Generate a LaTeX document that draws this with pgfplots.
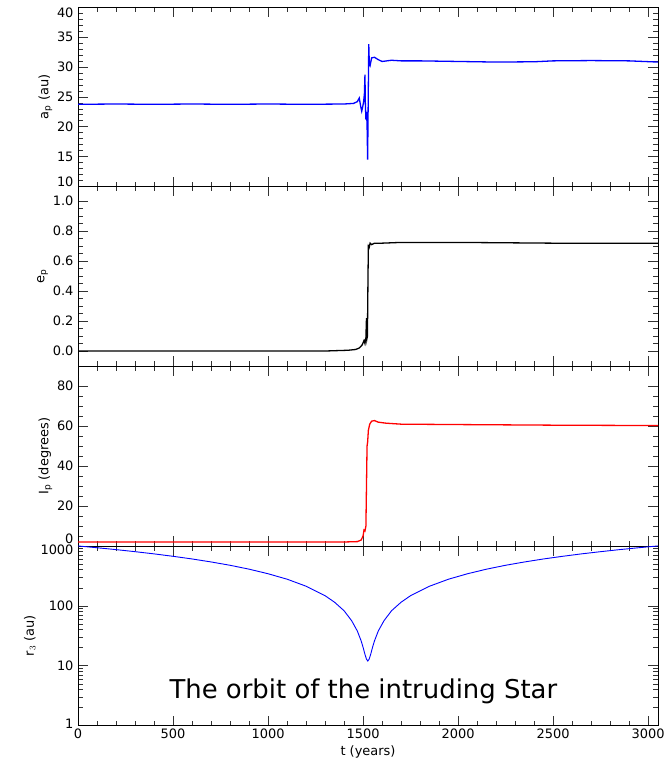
\documentclass[border=0pt]{standalone}
\usepackage{fontspec}
\setmainfont{DejaVu Sans}
\usepackage{pgfplots}
\pgfplotsset{compat=1.18}
\newcommand{\up}[2]{\raisebox{#1}[\height][\depth]{#2}}
\pgfplotsset{
  panel/.style={
    scale only axis, width=580bp, height=179.75bp,
    anchor=south west,
    xmin=0, xmax=3052,
    xtick={0,500,1000,1500,2000,2500,3000},
    minor x tick num=4,
    tick align=inside,
    major tick length=10bp, minor tick length=5bp,
    every tick/.style={black!80, line width=0.6bp},
    axis line style={black, line width=0.8bp},
    tick label style={font=\fontsize{13}{15}\selectfont},
    label style={font=\fontsize{13}{15}\selectfont},
    /pgf/number format/assume math mode=true,
    yticklabel style={xshift=-1bp},
    ylabel style={yshift=-2bp},
  }
}
\begin{document}
\begin{tikzpicture}
\useasboundingbox (0,0) rectangle (667bp,769bp);
% panel 1: a_p
\begin{axis}[panel, at={(78bp,582.3bp)},
  xticklabel=\empty,
  ymin=10, ymax=40, ytick={10,15,20,25,30,35,40},
  yticklabels={\up{5bp}{10},15,20,25,30,35,\up{-6bp}{40}},
  minor y tick num=4,
  ylabel={a$_{\mathrm{p}}$ (au)}]
\addplot[blue, line width=1.3bp] coordinates {
(0,23.75) (200,23.8) (400,23.75) (600,23.8) (800,23.75) (1000,23.8) (1200,23.75) (1400,23.8)
(1450,23.9) (1470,24.2) (1480,24.8) (1487,23.5) (1493,22.6) (1498,23.3) (1503,24.2) (1507,25.5)
(1510,28.7) (1512,24) (1515,21.2) (1518,22.5) (1521,20.5) (1524,14.5) (1527,24) (1530,33.8)
(1533,30.5) (1537,30.2) (1545,31.5) (1560,31.6) (1580,31.2) (1600,30.9) (1650,31.1) (1700,31.0)
(1800,31.0) (2000,30.9) (2200,30.8) (2400,30.85) (2500,31.0) (2700,31.05) (2900,31.0) (3052,30.8)};
\end{axis}
% panel 2: e_p
\begin{axis}[panel, at={(78bp,403bp)},
  xticklabel=\empty,
  ymin=-0.1, ymax=1.1, ytick={0,0.2,0.4,0.6,0.8,1.0},
  yticklabels={0.0,0.2,0.4,0.6,0.8,1.0},
  minor y tick num=3,
  ylabel={e$_{\mathrm{p}}$}]
\addplot[black, line width=1.3bp] coordinates {
(0,0.0) (1300,0.0) (1420,0.005) (1460,0.01) (1480,0.02) (1495,0.04) (1505,0.07) (1510,0.05)
(1515,0.09) (1518,0.22) (1520,0.08) (1523,0.1) (1526,0.5) (1528,0.7) (1532,0.69) (1537,0.72)
(1545,0.71) (1560,0.72) (1600,0.72) (1700,0.725) (2000,0.725) (2500,0.72) (3052,0.72)};
\end{axis}
% panel 3: I_p
\begin{axis}[panel, at={(78bp,223bp)},
  xticklabel=\empty,
  ymin=0, ymax=90, ytick={0,20,40,60,80},
  yticklabels={\up{7bp}{0},20,40,60,80},
  minor y tick num=3,
  ylabel={I$_{\mathrm{p}}$ (degrees)}]
\addplot[red, line width=1.3bp] coordinates {
(0,2) (1400,2) (1470,2.2) (1490,3) (1500,5) (1505,8) (1510,7.5) (1515,10) (1518,30) (1521,50)
(1524,52) (1528,58) (1535,61) (1545,62.5) (1560,62.8) (1580,62) (1620,61.5) (1700,61) (2000,60.8)
(2500,60.5) (3052,60.3)};
\end{axis}
% panel 4: r_3
\begin{axis}[panel, at={(78bp,43.3bp)},
  ymode=log, ymin=1, ymax=1000, ytick={1,10,100,1000},
  yticklabels={\up{2bp}{1},10,100,\up{-4bp}{1000}},
  xticklabels={0,500,1000,1500,2000,2500,3000},
  ylabel={r$_{3}$ (au)}, xlabel={t (years)}]
\addplot[blue, line width=0.9bp] coordinates {
(0,1000) (100,934) (200,869) (300,803) (400,738) (500,672) (600,607) (700,541) (800,476)
(900,410) (1000,344) (1100,279) (1200,213) (1300,148) (1350,115) (1400,83) (1440,56.5)
(1470,38) (1490,26) (1500,20.4) (1510,15.5) (1518,12.9) (1525,12)
(1532,12.9) (1540,15.5) (1550,20.4) (1560,26) (1580,38) (1610,56.5) (1650,83) (1700,115)
(1750,148) (1850,213) (1950,279) (2050,344) (2150,410) (2250,476) (2350,541) (2450,607)
(2550,672) (2650,738) (2750,803) (2850,869) (2950,934) (3052,1001)};
\node[anchor=base, font=\fontsize{26}{30}\selectfont] at (rel axis cs:0.492,0.154) {The orbit of the intruding Star};
\end{axis}
\end{tikzpicture}
\end{document}
